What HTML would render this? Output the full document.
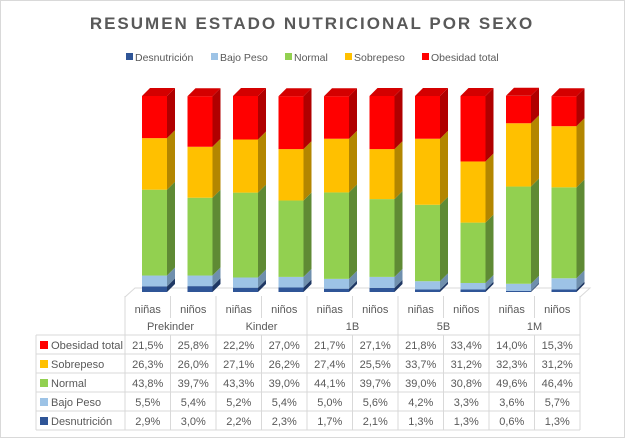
<!DOCTYPE html>
<html><head><meta charset="utf-8"><style>
body{margin:0;background:#fff;}
svg{display:block;font-family:"Liberation Sans",sans-serif;}
</style></head><body>
<svg id="c" width="625" height="438" viewBox="0 0 625 438">
<rect x="0.5" y="0.5" width="624" height="437" fill="#fff" stroke="#d9d9d9"/>
<text x="312" y="29" text-anchor="middle" font-size="17" font-weight="bold" fill="#595959" letter-spacing="2">RESUMEN ESTADO NUTRICIONAL POR SEXO</text>
<g id="legend"></g>
<g id="bars"></g>
<g id="table"></g>
</svg>
<script>
const groups = ["Prekinder","Kinder","1B","5B","1M"];
const cats = ["niñas","niños","niñas","niños","niñas","niños","niñas","niños","niñas","niños"];
const seriesNames = ["Desnutrición","Bajo Peso","Normal","Sobrepeso","Obesidad total"];
const desnutricion = [2.9,3.0,2.2,2.3,1.7,2.1,1.3,1.3,0.6,1.3];
const bajoPeso = [5.5,5.4,5.2,5.4,5.0,5.6,4.2,3.3,3.6,5.7];
const normal = [43.8,39.7,43.3,39.0,44.1,39.7,39.0,30.8,49.6,46.4];
const sobrepeso = [26.3,26.0,27.1,26.2,27.4,25.5,33.7,31.2,32.3,31.2];
const obesidad = [21.5,25.8,22.2,27.0,21.7,27.1,21.8,33.4,14.0,15.3];
const series = [desnutricion,bajoPeso,normal,sobrepeso,obesidad];
const colors = ["#2f5597","#9dc3e6","#92d050","#ffc000","#ff0000"];
const sides = ["#1f3864","#6f8fad","#5f8a34","#b38600","#b00000"];
const tops = ["#24467e","#8ab0d4","#7fbf3f","#e6ad00","#d40000"];
const NS="http://www.w3.org/2000/svg";
function mk(tag,attrs,parent){const e=document.createElementNS(NS,tag);for(const k in attrs)e.setAttribute(k,attrs[k]);parent.appendChild(e);return e;}
const x0=125, cw=45.5, base=292, H=196, bw=25, dd=8;
const xPos=i=>x0+i*cw+17;
const yScale=v=>v/100*H;
const bars=document.getElementById('bars');
const fl=mk('path',{d:`M${x0} ${base+5} L${x0+10} ${base-4} L${x0+10*cw+10} ${base-4} L${x0+10*cw} ${base+5}`,fill:'none',stroke:'#d9d9d9'},bars);


cats.forEach((c,i)=>{
  let cum=0;
  const x=xPos(i);
  series.forEach((s,k)=>{
    const h=yScale(s[i]);
    const yb=base-yScale(cum), yt=yb-h;
    cum+=s[i];
    const g=mk('g',{},bars);
    
    
    mk('rect',{x:x,y:yt,width:bw,height:h,fill:colors[k]},g);
    mk('polygon',{points:`${x+bw},${yt} ${x+bw+dd},${yt-dd} ${x+bw+dd},${yb-dd} ${x+bw},${yb}`,fill:sides[k]},g);
    if(k===series.length-1) mk('polygon',{points:`${x},${yt} ${x+dd},${yt-dd} ${x+bw+dd},${yt-dd} ${x+bw},${yt}`,fill:tops[k]},g);
  });
});
const lg=document.getElementById('legend');
const lx=[126,211,285,345,422];
seriesNames.forEach((n,k)=>{
  const g=mk('g',{},lg);
  
  
  mk('rect',{x:lx[k],y:53,width:7,height:7,fill:colors[k]},g);
  const t=mk('text',{x:lx[k]+9,y:61,'font-size':10.5,fill:'#595959'},g);t.textContent=n;
});
const tb=document.getElementById('table');
const st={stroke:'#d9d9d9','stroke-width':1,fill:'none'};
const right=x0+10*cw, rowsY=[335,354,373,392,411,430];
rowsY.forEach(y=>mk('line',Object.assign({x1:36,y1:y,x2:right,y2:y},st),tb));
mk('line',Object.assign({x1:36,y1:335,x2:36,y2:430},st),tb);
for(let i=0;i<=10;i++){
  const x=x0+i*cw;
  mk('line',Object.assign({x1:x,y1:296,x2:x,y2:i%2===0?430:318},st),tb);
  if(i%2===1) mk('line',Object.assign({x1:x,y1:335,x2:x,y2:430},st),tb);
}
cats.forEach((c,i)=>{
  const t=mk('text',{x:x0+i*cw+cw/2,y:313,'text-anchor':'middle','font-size':11,fill:'#595959'},tb);
  
  
  t.textContent=c;
});
groups.forEach((g,j)=>{
  const t=mk('text',{x:x0+j*2*cw+cw,y:330,'text-anchor':'middle','font-size':11,fill:'#595959'},tb);
  
  
  t.textContent=g;
});
const order=[4,3,2,1,0];
order.forEach((k,r)=>{
  const y=rowsY[r]+14;
  mk('rect',{x:40,y:y-8,width:8,height:8,fill:colors[k]},tb);
  const lab=mk('text',{x:51,y:y,'font-size':11,fill:'#595959'},tb);
  
  
  lab.textContent=seriesNames[k];
  if(seriesNames[k].length>12){lab.setAttribute('textLength','72');lab.setAttribute('lengthAdjust','spacingAndGlyphs');}
  series[k].forEach((v,i)=>{
    const t=mk('text',{x:x0+i*cw+cw/2,y:y,'text-anchor':'middle','font-size':11,fill:'#595959'},tb);
    
    
    t.textContent=v.toFixed(1).replace('.',',')+'%';
  });
});
</script>
</body></html>
